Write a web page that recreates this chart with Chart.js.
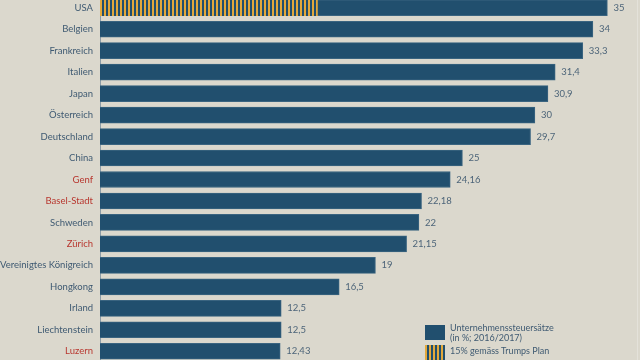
<!DOCTYPE html>
<html><head><meta charset="utf-8">
<script src="https://cdn.jsdelivr.net/npm/chart.js@4/dist/chart.umd.min.js"></script>
<style>
html,body{margin:0;padding:0;width:640px;height:360px;overflow:hidden;background:#dbd8cd;}
#wrap{position:absolute;left:0;top:-3px;width:640px;height:365px;}
.lg{position:absolute;font-family:Lato,"Open Sans",sans-serif;font-size:9px;color:#3f5a72;line-height:10px;white-space:nowrap;}
.box{position:absolute;width:20px;height:15px;}
#edge{position:absolute;left:637px;top:0;width:1px;height:360px;background:#e4e2da;}
</style></head><body>
<div id="wrap"><canvas id="c"></canvas></div>
<div id="edge"></div>
<div class="box" style="left:425px;top:325px;background:#214f6e;"></div>
<div class="lg" style="left:450px;top:323px;">Unternehmenssteuersätze<br>(in %; 2016/2017)</div>
<div class="box" style="left:425px;top:345px;background:repeating-linear-gradient(90deg,#e3a83a 0 2px,#214f6e 2px 4px);"></div>
<div class="lg" style="left:450px;top:346px;">15% gemäss Trumps Plan</div>
<script>
const categories = ["USA","Belgien","Frankreich","Italien","Japan","Österreich","Deutschland","China","Genf","Basel-Stadt","Schweden","Zürich","Vereinigtes Königreich","Hongkong","Irland","Liechtenstein","Luzern"];
const rates = [35,34,33.3,31.4,30.9,30,29.7,25,24.16,22.18,22,21.15,19,16.5,12.5,12.5,12.43];
const trumpPlan = [15,null,null,null,null,null,null,null,null,null,null,null,null,null,null,null,null];
const swissCantons = ["Genf","Basel-Stadt","Zürich","Luzern"];

const BLUE = "#214f6e", GOLD = "#e3a83a";
const pc = document.createElement("canvas");
pc.width = 4; pc.height = 4;
const pctx = pc.getContext("2d");
pctx.fillStyle = GOLD; pctx.fillRect(0,0,2,4);
pctx.fillStyle = BLUE; pctx.fillRect(2,0,2,4);
const stripe = document.getElementById("c").getContext("2d").createPattern(pc, "repeat");

const fmt = v => String(v).replace(".", ",");

const valueLabels = {
  id: "valueLabels",
  afterDatasetsDraw(chart) {
    const ctx = chart.ctx;
    const meta = chart.getDatasetMeta(1);
    ctx.save();
    ctx.font = "9.5px Lato, 'Open Sans', sans-serif";
    ctx.fillStyle = "#4d6579";
    ctx.textAlign = "left";
    ctx.textBaseline = "middle";
    meta.data.forEach((el, i) => {
      ctx.fillText(fmt(rates[i]), el.x + 6, el.y);
    });
    ctx.restore();
  }
};

new Chart(document.getElementById("c"), {
  type: "bar",
  data: {
    labels: categories,
    datasets: [
      { label: "15% gemäss Trumps Plan", data: trumpPlan, backgroundColor: stripe, borderWidth: 0, grouped: false, barThickness: 16 },
      { label: "Unternehmenssteuersätze (in %; 2016/2017)", data: rates, backgroundColor: BLUE, borderColor: "#3a6480", borderWidth: 1, grouped: false, barThickness: 16 }
    ]
  },
  options: {
    indexAxis: "y",
    responsive: true,
    maintainAspectRatio: false,
    animation: false,
    layout: { padding: 0 },
    plugins: { legend: { display: false }, tooltip: { enabled: false } },
    scales: {
      x: { display: false, min: 0, max: 37.25 },
      y: {
        afterFit: s => { s.width = 100; s.paddingTop = 0; s.paddingBottom = 0; },
        grid: { display: false, drawTicks: false },
        border: { display: true, color: "#8d9ca6", width: 1 },
        ticks: {
          padding: 7,
          font: { family: "Lato, 'Open Sans', sans-serif", size: 9.5 },
          color: c => swissCantons.includes(categories[c.index]) ? "#b8372f" : "#3f5a72"
        }
      }
    }
  },
  plugins: [valueLabels]
});
</script>
</body></html>
